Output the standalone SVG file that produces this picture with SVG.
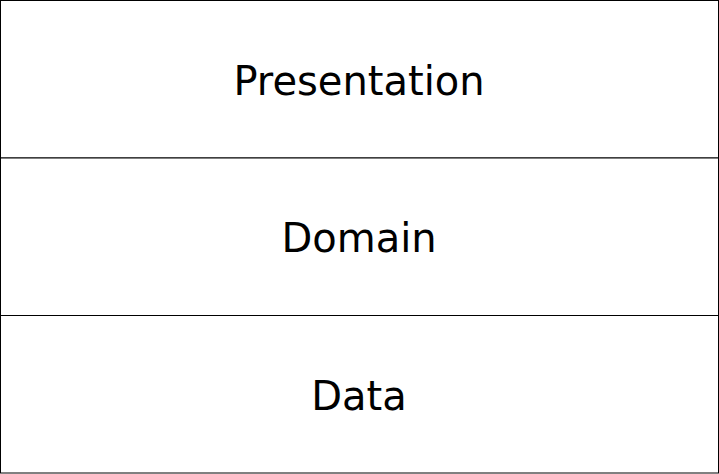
<svg xmlns="http://www.w3.org/2000/svg" width="719" height="474" viewBox="0 0 719 474">
<style>
.box{fill:#fff;stroke:#000;stroke-width:1}
.lbl{font-family:"DejaVu Sans",sans-serif;font-size:40px;text-anchor:middle;fill:#000}
</style>
<rect width="719" height="474" fill="#fff"/>
<g id="presentation"><rect class="box" x="0.5" y="0.5" width="718" height="157.5"/><text class="lbl" x="359" y="94.5">Presentation</text></g>
<g id="domain"><rect class="box" x="0.5" y="158" width="718" height="157.5"/><text class="lbl" x="359" y="252">Domain</text></g>
<g id="data"><rect class="box" x="0.5" y="315.5" width="718" height="157.5"/><text class="lbl" x="359" y="409.5">Data</text></g>
<g id="connectors"/>
</svg>
